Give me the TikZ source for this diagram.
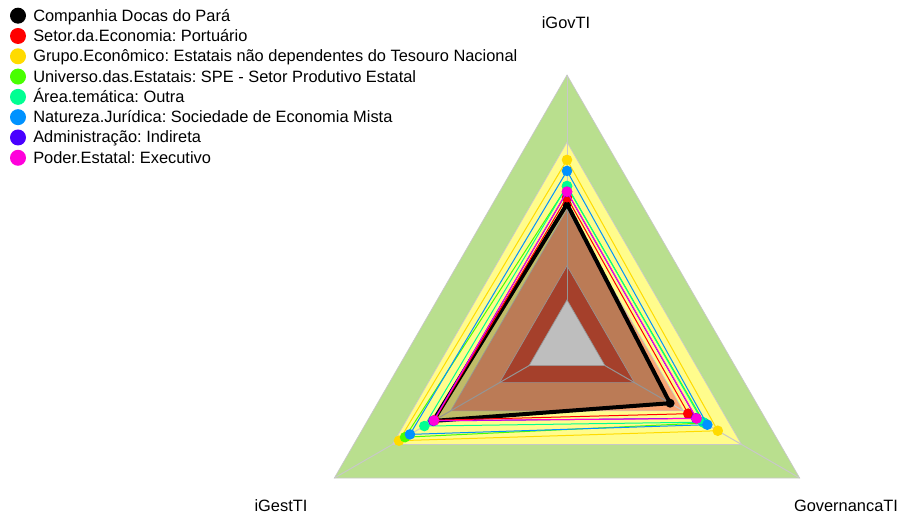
\documentclass[tikz,border=0pt]{standalone}
\usepackage{fontspec}
\setmainfont{Liberation Sans}
\usetikzlibrary{calc}
\frenchspacing
\newcommand{\rmax}{268.7}
\definecolor{cred}{HTML}{FF0000}
\definecolor{cgold}{HTML}{FFDB00}
\definecolor{clime}{HTML}{49FF00}
\definecolor{cspring}{HTML}{00FF92}
\definecolor{cblue}{HTML}{0092FF}
\definecolor{cviolet}{HTML}{4900FF}
\definecolor{cmagenta}{HTML}{FF00DB}
\definecolor{bandgreen}{RGB}{185,223,142}
\definecolor{bandyellow}{RGB}{255,252,140}
\definecolor{bandsalmon}{RGB}{250,165,116}
\definecolor{bandred}{RGB}{221,86,58}
\definecolor{bandwhite}{RGB}{254,254,254}
\definecolor{spoke}{RGB}{200,200,200}

\begin{document}
\begin{tikzpicture}[x=0.75pt,y=0.75pt,font=\fontsize{12.3}{14}\selectfont]
  \useasboundingbox (0,0) rectangle (900,517);

  \foreach[count=\i from 0,evaluate={517-15.7-20.3*\i} as \y] \col/\txt in {black/Companhia Docas do Pará,cred/Setor.da.Economia: Portuário,cgold/Grupo.Econômico: Estatais não dependentes do Tesouro Nacional,clime/Universo.das.Estatais: SPE - Setor Produtivo Estatal,cspring/Área.temática: Outra,cblue/Natureza.Jurídica: Sociedade de Economia Mista,cviolet/Administração: Indireta,cmagenta/Poder.Estatal: Executivo} {
    \fill[\col] (18,\y) circle (8);
    \node[anchor=base west,inner sep=0pt] (leg\i) at (33,\y-5.5) {\txt};
  }

  \begin{scope}[shift={(567,173.3)}]
    \foreach[evaluate={\r*\rmax} as \rr] \r/\c in {1/bandgreen,0.75/bandyellow,0.5/bandsalmon,0.29/bandred,0.163/bandwhite} {
      \filldraw[fill=\c,draw=spoke,line width=0.5pt] (90:\rr) -- (210:\rr) -- (330:\rr) -- cycle;
    }
    \foreach \a in {90,210,330} {
      \draw[spoke,line width=0.75pt] (\a:0.163*\rmax) -- (\a:\rmax);
    }

    \coordinate (ct) at (90:0.52*\rmax);
    \coordinate (cl) at (210:0.575*\rmax);
    \coordinate (cr) at (330:0.443*\rmax);
    \fill[black,opacity=0.25] (ct) -- (cl) -- (cr) -- cycle;
    \draw[line width=3pt,line join=round] (ct) -- (cl) -- (cr) -- cycle;
    \foreach \p in {ct,cl,cr} {
      \fill (\p) circle (4.5);
    }

    \foreach[count=\k,evaluate={\vt*\rmax} as \rt,evaluate={\vl*\rmax} as \rl,evaluate={\vr*\rmax} as \rr] \col/\vt/\vl/\vr in {cred/0.545/0.570/0.521,cgold/0.684/0.722/0.648,clime/0.585/0.696/0.590,cspring/0.587/0.613/0.584,cblue/0.643/0.675/0.603,cviolet/0.565/0.575/0.555,cmagenta/0.566/0.572/0.557} {
      \coordinate (s\k t) at (90:\rt);
      \coordinate (s\k l) at (210:\rl);
      \coordinate (s\k r) at (330:\rr);
      \draw[\col,line width=0.75pt] (s\k t) -- (s\k l) -- (s\k r) -- cycle;
      \foreach \p in {t,l,r} {
        \fill[\col] (s\k\p) circle (5.3);
      }
    }
  \end{scope}

  \node (axgov) at (566,494) {iGovTI};
  \node (axgest) at (281,11) {iGestTI};
  \node (axgovern) at (846,11) {GovernancaTI};
\end{tikzpicture}
\end{document}
